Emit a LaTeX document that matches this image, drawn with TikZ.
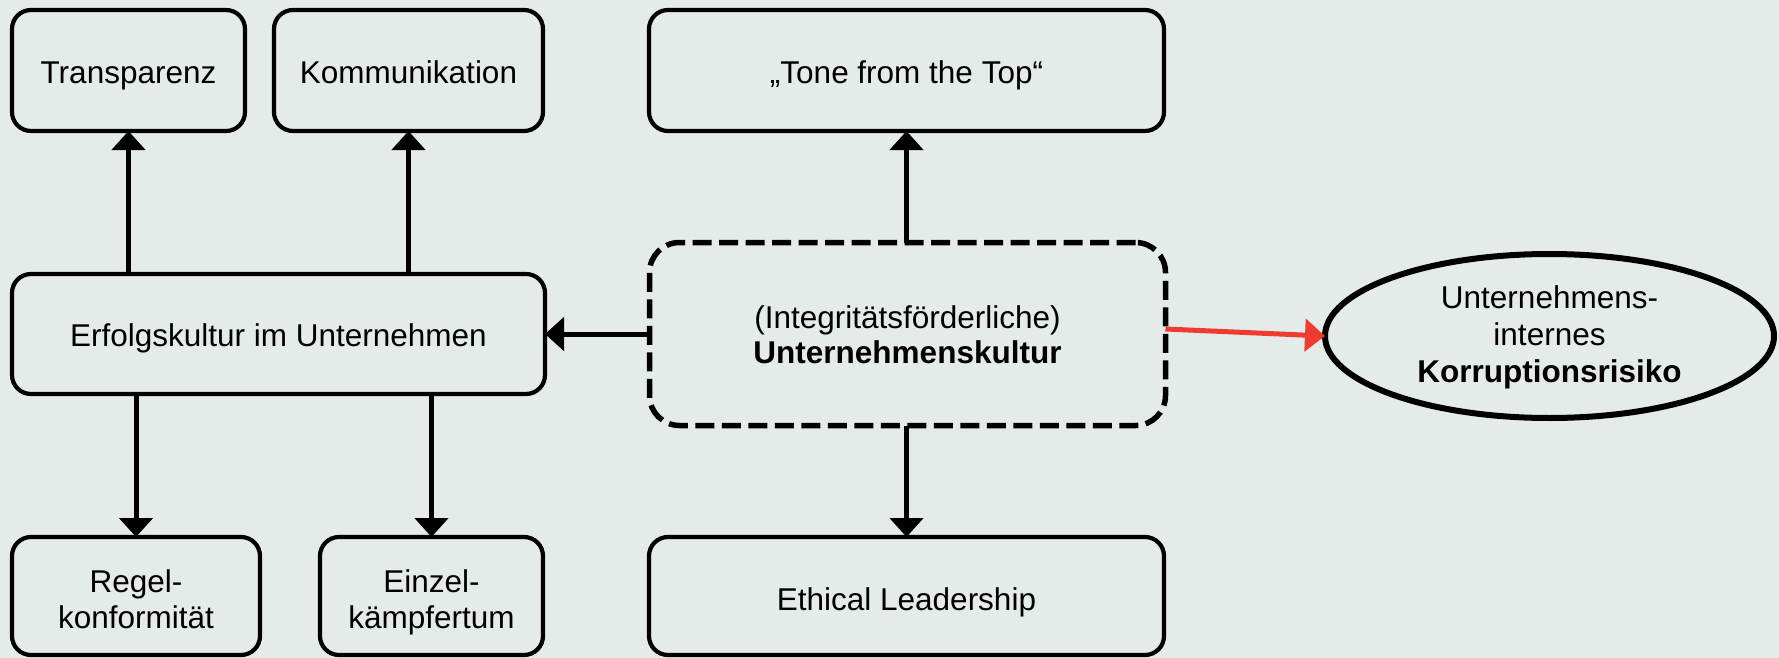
\documentclass[tikz,border=0pt]{standalone}
\usepackage{fontspec}
\setmainfont{Liberation Sans}
\usetikzlibrary{arrows.meta,shapes.geometric}
\definecolor{bg}{HTML}{E5EBE8}
\definecolor{riskred}{HTML}{EE3B31}
% centred label, lowered inside its node without changing the node size
\newcommand\lbl[2][-5pt]{\raisebox{#1}[\height][\depth]{\begin{tabular}{@{}c@{}}#2\end{tabular}}}

\begin{document}
\begin{tikzpicture}[x=1pt,y=-1pt,
  every node/.style={font=\fontsize{31.5}{36}\selectfont, inner sep=0pt, outer sep=0pt},
  box/.style={rectangle, draw=black, line width=4.2pt, rounded corners=19pt, fill=bg},
  cultbox/.style={rectangle, draw=black, line width=5.5pt, dash pattern=on 19pt off 7.5pt, rounded corners=30pt, fill=bg},
  riskell/.style={ellipse, draw=black, line width=6pt, fill=bg},
  arr/.style={line width=5pt, -{Triangle[length=19pt,width=33pt]}},
  redarr/.style={line width=5pt, draw=riskred, -{Triangle[length=20pt,width=32pt]}}
]
% canvas
\fill[bg] (0,0) rectangle (1779,658);
\useasboundingbox (0,0) rectangle (1779,658);

% top row
\node[box, minimum width=233pt, minimum height=121pt] (trans) at (128.5,70.5) {\lbl[-6pt]{Transparenz}};
\node[box, minimum width=269pt, minimum height=121pt] (komm) at (408.5,70.5) {\lbl[-6pt]{Kommunikation}};
\node[box, minimum width=515pt, minimum height=121pt] (tone) at (906.5,70.5) {\lbl[-6pt]{„Tone from the Top“}};

% middle row
\node[box, minimum width=533pt, minimum height=120pt] (erfolg) at (278.5,334) {\lbl{Erfolgskultur im Unternehmen}};
\node[cultbox, minimum width=516pt, minimum height=183pt, font=\fontsize{31.5}{35}\selectfont] (kultur) at (907.5,334)
  {\lbl{(Integritätsförderliche)\\\textbf{Unternehmenskultur}}};
\node[riskell, minimum width=449pt, minimum height=164pt, font=\fontsize{31.5}{37}\selectfont] (risk) at (1549.5,336)
  {\lbl[-2.5pt]{Unternehmens-\\internes\\\textbf{Korruptionsrisiko}}};

% bottom row
\node[box, minimum width=248pt, minimum height=118pt] (regel) at (136,596) {\lbl[-7pt]{Regel-\\konformität}};
\node[box, minimum width=223pt, minimum height=118pt] (einzel) at (431.5,596) {\lbl[-7pt]{Einzel-\\kämpfertum}};
\node[box, minimum width=515pt, minimum height=118pt] (ethical) at (906.5,596) {\lbl[-7pt]{Ethical Leadership}};

% connectors
\draw[arr] (erfolg.north -| trans) -- (trans.south);
\draw[arr] (erfolg.north -| komm) -- (komm.south);
\draw[arr] (erfolg.south -| regel) -- (regel.north);
\draw[arr] (erfolg.south -| einzel) -- (einzel.north);
\draw[arr] (kultur.north -| tone) -- (tone.south);
\draw[arr] (kultur.south -| ethical) -- (ethical.north);
\draw[arr] (kultur.west) -- (erfolg.east);
\draw[redarr] ([yshift=5pt]kultur.east) -- (risk.west);
\end{tikzpicture}
\end{document}
